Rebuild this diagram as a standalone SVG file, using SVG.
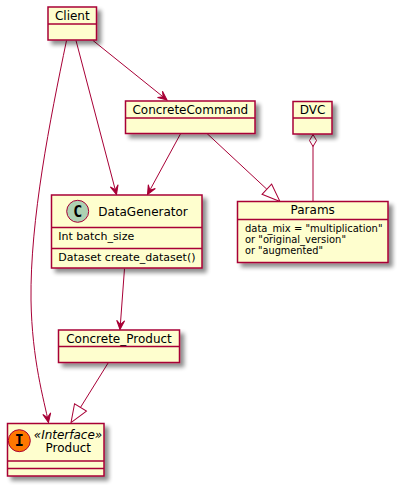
<svg xmlns="http://www.w3.org/2000/svg" width="401" height="489" viewBox="0 0 401 489">
<style>
.box{fill:#FEFECE;stroke:#A80036;stroke-width:1.5;filter:url(#sh)}
.sep{stroke:#A80036;stroke-width:1.5}
.nm{font-family:"DejaVu Sans",sans-serif;font-size:12px;fill:#000;text-anchor:middle}
.fd{font-family:"DejaVu Sans",sans-serif;font-size:11px;fill:#000}
.pf{font-family:"DejaVu Sans",sans-serif;font-size:10.4px;fill:#000}
.edge{fill:none;stroke:#A80036;stroke-width:1}
.arr{marker-end:url(#arrow)}
.ext{marker-end:url(#tri)}
.spot{font-family:"DejaVu Sans Mono",monospace;font-weight:bold;font-size:15px;text-anchor:middle;fill:#000}
</style>
<defs>
<filter id="sh" x="-20%" y="-20%" width="150%" height="160%">
<feGaussianBlur in="SourceAlpha" stdDeviation="2" result="b"/>
<feOffset in="b" dx="4" dy="4" result="o"/>
<feComponentTransfer in="o" result="s"><feFuncA type="linear" slope="0.45"/></feComponentTransfer>
<feMerge><feMergeNode in="s"/><feMergeNode in="SourceGraphic"/></feMerge>
</filter>
<marker id="arrow" viewBox="-10 -5 11 10" refX="0" refY="0" markerWidth="11" markerHeight="10" markerUnits="userSpaceOnUse" orient="auto">
<path d="M0,0 L-9,-4 L-5,0 L-9,4 Z" fill="#A80036" stroke="#A80036" stroke-width="1"/>
</marker>
<marker id="tri" viewBox="-1 -9 21 18" refX="0" refY="0" markerWidth="21" markerHeight="18" markerUnits="userSpaceOnUse" orient="auto">
<path d="M0,-7 L18,0 L0,7 Z" fill="none" stroke="#A80036" stroke-width="1"/>
</marker>
<marker id="dia" viewBox="-1 -5 14 10" refX="0" refY="0" markerWidth="14" markerHeight="10" markerUnits="userSpaceOnUse" orient="auto">
<path d="M0,0 L6,-3.5 L12,0 L6,3.5 Z" fill="#FFFFFF" stroke="#A80036" stroke-width="1"/>
</marker>
</defs>

<g id="connectors">
<path class="edge arr" d="M93,40.5 L167,100"/>
<path class="edge arr" d="M76,40.5 L116.5,194.5"/>
<path class="edge arr" d="M66.5,40.5 C50,120 30,220 31,300 C32,360 44,400 48.5,422.5"/>
<path class="edge arr" d="M180.7,133.5 L147.5,194.5"/>
<path class="edge ext" d="M207,133.5 L266.8,189.2"/>
<path class="edge" d="M313,134.5 L313,201.5" marker-start="url(#dia)"/>
<path class="edge arr" d="M124.5,268.5 L120,329.5"/>
<path class="edge ext" d="M108.3,362.7 L80.5,407.4"/>
</g>

<g id="Client">
<rect class="box" x="48" y="7" width="48.5" height="33"/>
<text class="nm" x="72.3" y="20">Client</text>
<line class="sep" x1="48" y1="24" x2="96.5" y2="24"/>
</g>

<g id="ConcreteCommand">
<rect class="box" x="125.5" y="101" width="129.5" height="32.5"/>
<text class="nm" x="190.3" y="114">ConcreteCommand</text>
<line class="sep" x1="125.5" y1="118" x2="255" y2="118"/>
</g>

<g id="DVC">
<rect class="box" x="293" y="101.5" width="39" height="32.5"/>
<text class="nm" x="312.5" y="114">DVC</text>
<line class="sep" x1="293" y1="118" x2="332" y2="118"/>
</g>

<g id="Params">
<rect class="box" x="237.5" y="201.5" width="150.5" height="61"/>
<text class="nm" x="312.7" y="214.3">Params</text>
<line class="sep" x1="237.5" y1="219.5" x2="388" y2="219.5"/>
<text class="pf" x="245" y="231.7" textLength="137.5" lengthAdjust="spacingAndGlyphs">data_mix = "multiplication"</text>
<text class="pf" x="245" y="243" textLength="101" lengthAdjust="spacingAndGlyphs">or "original_version"</text>
<text class="pf" x="245" y="254.3" textLength="78" lengthAdjust="spacingAndGlyphs">or "augmented"</text>
</g>

<g id="DataGenerator">
<rect class="box" x="51.5" y="195" width="150.5" height="73"/>
<circle cx="77.7" cy="211.3" r="11" fill="#ADD1B2" stroke="#A80036" stroke-width="1"/>
<text class="spot" x="77.7" y="216.5">C</text>
<text class="nm" x="143" y="215.7">DataGenerator</text>
<line class="sep" x1="51.5" y1="227.5" x2="202" y2="227.5"/>
<text class="fd" x="58.3" y="240.3">Int batch_size</text>
<line class="sep" x1="51.5" y1="248.5" x2="202" y2="248.5"/>
<text class="fd" x="58.3" y="261.3">Dataset create_dataset()</text>
</g>

<g id="Concrete_Product">
<rect class="box" x="58.5" y="330" width="121" height="32.5"/>
<text class="nm" x="119" y="343">Concrete_Product</text>
<line class="sep" x1="58.5" y1="346.5" x2="179.5" y2="346.5"/>
</g>

<g id="Product">
<rect class="box" x="7.5" y="423.5" width="96.5" height="52.5"/>
<circle cx="19.3" cy="440.7" r="11" fill="#FF7700" stroke="#A80036" stroke-width="1"/>
<text class="spot" x="19.3" y="446">I</text>
<text class="nm" x="68" y="439" font-style="italic">«Interface»</text>
<text class="nm" x="68.3" y="451.7">Product</text>
<line class="sep" x1="7.5" y1="461" x2="104" y2="461"/>
<line class="sep" x1="7.5" y1="468.5" x2="104" y2="468.5"/>
</g>
</svg>
